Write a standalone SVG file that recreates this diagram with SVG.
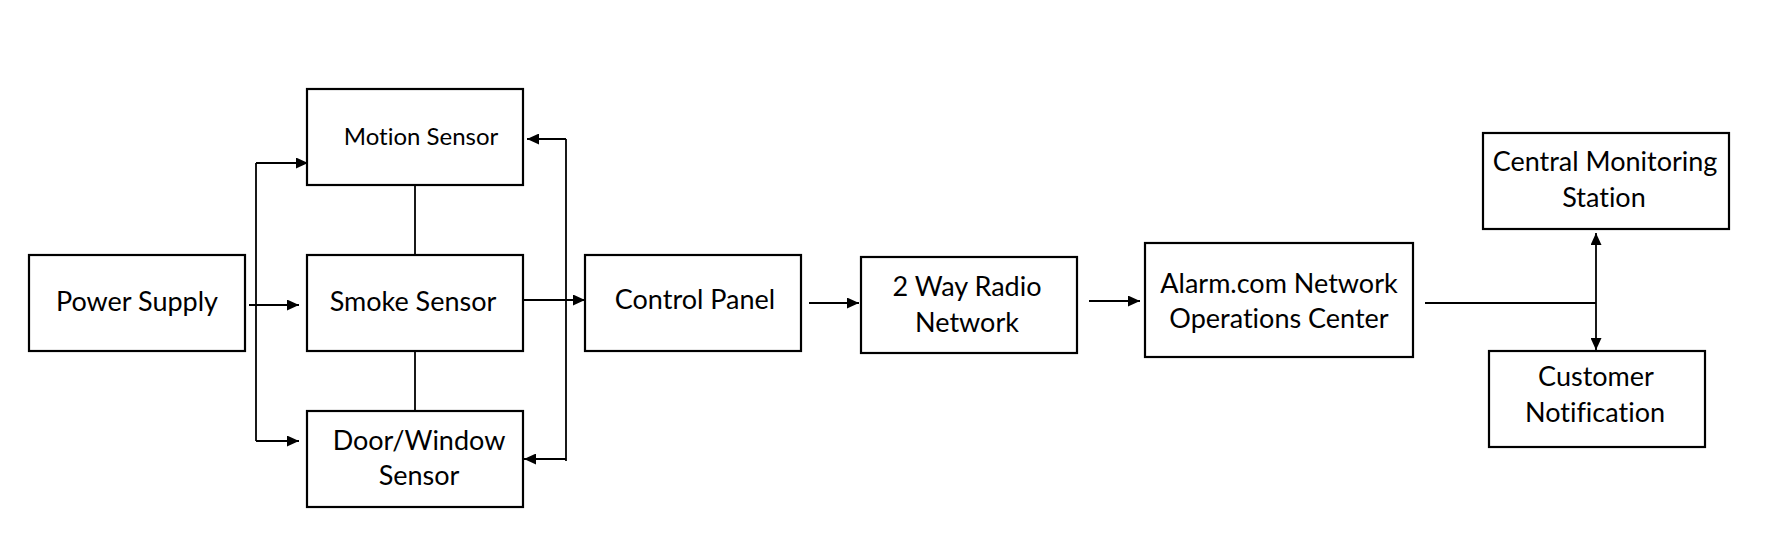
<svg xmlns="http://www.w3.org/2000/svg" width="1780" height="560" viewBox="0 0 1780 560">
<style>
.box{fill:#fff;stroke:#000;stroke-width:2.2}
.t{font-family:Lato,"Open Sans","Liberation Sans",sans-serif;font-size:27px;fill:#000;text-anchor:middle;font-variant-ligatures:none}
.s{font-size:24px}
.c{fill:none;stroke:#000;stroke-width:1.8}
</style>
<defs>
<marker id="ah" markerUnits="userSpaceOnUse" markerWidth="12" markerHeight="11" refX="12" refY="5.5" orient="auto-start-reverse" viewBox="0 0 12 11">
<path d="M0,0 L12,5.5 L0,11 z" fill="#000"/>
</marker>
</defs>
<rect width="1780" height="560" fill="#fff"/>
<g id="connectors">
<path class="c" d="M256,163 V441"/>
<path class="c" d="M256,163 H308" marker-end="url(#ah)"/>
<path class="c" d="M256,441 H299" marker-end="url(#ah)"/>
<path class="c" d="M249,305 H299" marker-end="url(#ah)"/>
<path class="c" d="M522,300 H585" marker-end="url(#ah)"/>
<path class="c" d="M566,139 V461"/>
<path class="c" d="M566,139 H527" marker-end="url(#ah)"/>
<path class="c" d="M566,459 H524" marker-end="url(#ah)"/>
<path class="c" d="M415,185 V255"/>
<path class="c" d="M415,351 V411"/>
<path class="c" d="M809,303 H859" marker-end="url(#ah)"/>
<path class="c" d="M1089,301 H1140" marker-end="url(#ah)"/>
<path class="c" d="M1425,303 H1596"/>
<path class="c" d="M1596,233 V350" marker-start="url(#ah)" marker-end="url(#ah)"/>
</g>
<g id="power-supply">
<rect class="box" x="29" y="255" width="216" height="96"/>
<text class="t" x="137" y="311">Power Supply</text>
</g>
<g id="motion-sensor">
<rect class="box" x="307" y="89" width="216" height="96"/>
<text class="t s" x="421" y="145">Motion Sensor</text>
</g>
<g id="smoke-sensor">
<rect class="box" x="307" y="255" width="216" height="96"/>
<text class="t" x="413" y="311">Smoke Sensor</text>
</g>
<g id="door-window-sensor">
<rect class="box" x="307" y="411" width="216" height="96"/>
<text class="t" x="419" y="450">Door/Window</text>
<text class="t" x="419" y="485">Sensor</text>
</g>
<g id="control-panel">
<rect class="box" x="585" y="255" width="216" height="96"/>
<text class="t" x="695" y="309">Control Panel</text>
</g>
<g id="radio-network">
<rect class="box" x="861" y="257" width="216" height="96"/>
<text class="t" x="967" y="296">2 Way Radio</text>
<text class="t" x="967" y="332">Network</text>
</g>
<g id="alarm-noc">
<rect class="box" x="1145" y="243" width="268" height="114"/>
<text class="t" x="1279" y="293">Alarm.com Network</text>
<text class="t" x="1279" y="328">Operations Center</text>
</g>
<g id="central-monitoring">
<rect class="box" x="1483" y="133" width="246" height="96"/>
<text class="t" x="1605" y="171">Central Monitoring</text>
<text class="t" x="1604" y="207">Station</text>
</g>
<g id="customer-notification">
<rect class="box" x="1489" y="351" width="216" height="96"/>
<text class="t" x="1596" y="386">Customer</text>
<text class="t" x="1595" y="422">Notification</text>
</g>
</svg>
